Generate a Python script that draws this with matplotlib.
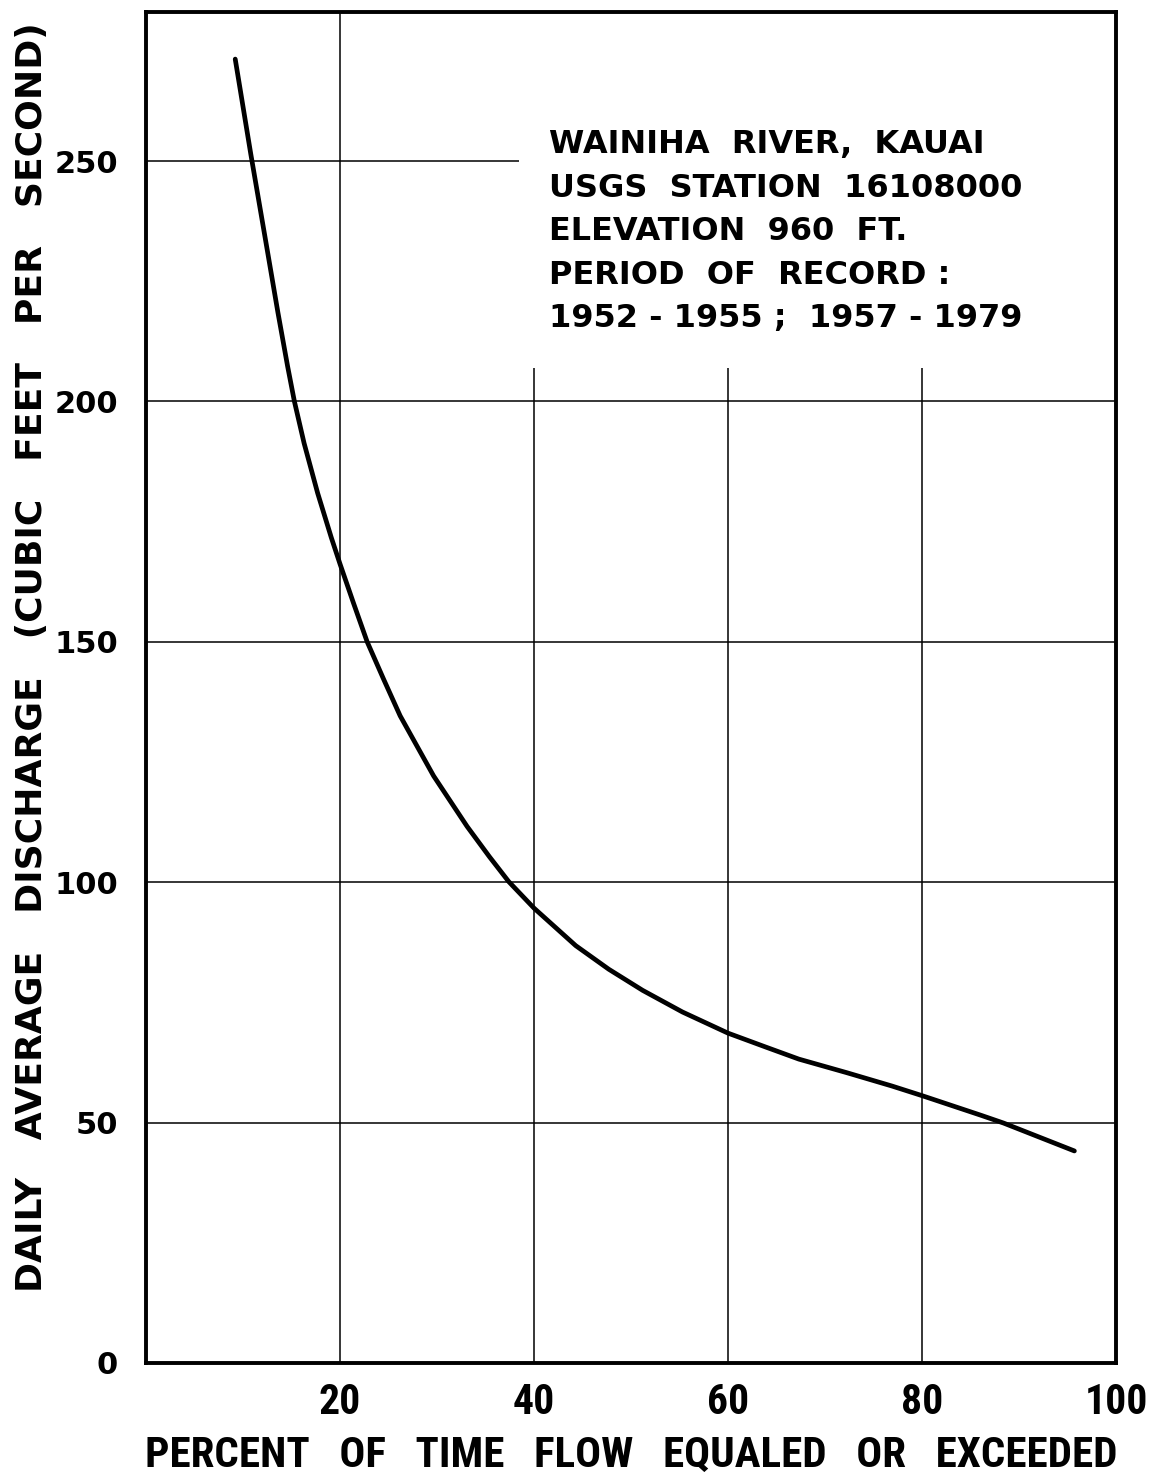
#!/usr/bin/env python3
"""Wainiha River flow-duration curve"""
import matplotlib
matplotlib.use('Agg')
import matplotlib.pyplot as plt
from matplotlib import font_manager as fm

# curve: percent of time vs. discharge (cfs)
pct_time = [9.2, 10.8, 12.5, 13.6, 14.6, 15.3, 16.3, 17.7, 19.1, 20.0,
            21.4, 22.8, 24.5, 26.2, 29.65, 33.1, 35.4, 37.4, 40.0, 44.3,
            47.7, 51.2, 55.3, 60.0, 63.9, 67.3, 72.2, 76.9, 80.0, 86.1,
            88.4, 95.7]
discharge = [271.2, 251.5, 231.5, 218.5, 207.3, 200.0, 191.3, 180.9, 171.7,
             166.2, 158.0, 150.0, 142.2, 134.6, 122.1, 111.6, 105.3, 100.1,
             94.6, 86.8, 81.9, 77.5, 73.0, 68.6, 65.7, 63.2, 60.4, 57.6,
             55.6, 51.5, 49.9, 44.1]

x_ticks = [20, 40, 60, 80, 100]
y_ticks = [0, 50, 100, 150, 200, 250]

info_lines = ['WAINIHA  RIVER,  KAUAI',
              'USGS  STATION  16108000',
              'ELEVATION  960  FT.',
              'PERIOD  OF  RECORD :',
              '1952 - 1955 ;  1957 - 1979']

# 找一个窄体字，没有就用 DejaVu
installed = {f.name for f in fm.fontManager.ttflist}
narrow = 'DejaVu Sans'
for name in ['Roboto Condensed', 'Liberation Sans Narrow', 'DejaVu Sans Condensed']:
    if name in installed:
        narrow = name
        break
has_narrow = narrow != 'DejaVu Sans'

fig = plt.figure(figsize=(11.53, 14.77), dpi=100)
ax = fig.add_axes([0.1266, 0.0772, 0.8414, 0.9147])
ax.set_xlim(0, 100)
ax.set_ylim(0, 281)

# 网格线（右上角留白给说明文字）
ax.vlines(20, 0, 281, color='black', lw=1.1)
ax.vlines([40, 60, 80], 0, 207, color='black', lw=1.1)
ax.hlines([50, 100, 150, 200], 0, 100, color='black', lw=1.1)
ax.hlines(250, 0, 38.4, color='black', lw=1.1)

ax.plot(pct_time, discharge, color='black', lw=3.4, solid_capstyle='round',
        solid_joinstyle='round')

for s in ax.spines.values():
    s.set_linewidth(2.8)

ax.set_xticks(x_ticks)
ax.set_yticks(y_ticks)
ax.tick_params(length=0)
ax.tick_params(axis='x', pad=14)
ax.tick_params(axis='y', pad=20)
for lbl in ax.get_xticklabels():
    lbl.set_fontfamily([narrow, 'DejaVu Sans'])
    lbl.set_fontweight('bold')
    lbl.set_fontsize(30 if has_narrow else 23)
for lbl in ax.get_yticklabels():
    lbl.set_fontfamily(['DejaVu Sans'])
    lbl.set_fontweight('bold')
    lbl.set_fontsize(22)

ax.set_xlabel('PERCENT   OF   TIME   FLOW   EQUALED   OR   EXCEEDED',
              family=[narrow, 'DejaVu Sans'], weight='bold',
              fontsize=31 if has_narrow else 21)
ax.xaxis.set_label_coords(0.5, -0.0535)
ax.xaxis.label.set_va('top')
ax.set_ylabel('DAILY   AVERAGE   DISCHARGE   (CUBIC   FEET   PER   SECOND)',
              family=['DejaVu Sans'], weight='bold', fontsize=26)
ax.yaxis.set_label_coords(-0.1, 0.5226)

for i, line in enumerate(info_lines):
    ax.text(0.415, 0.9016 - i * 0.0321, line, transform=ax.transAxes,
            fontsize=23, weight='bold', family=['DejaVu Sans'],
            ha='left', va='center')

plt.savefig('out.png', dpi=100, facecolor='white')
plt.close()
